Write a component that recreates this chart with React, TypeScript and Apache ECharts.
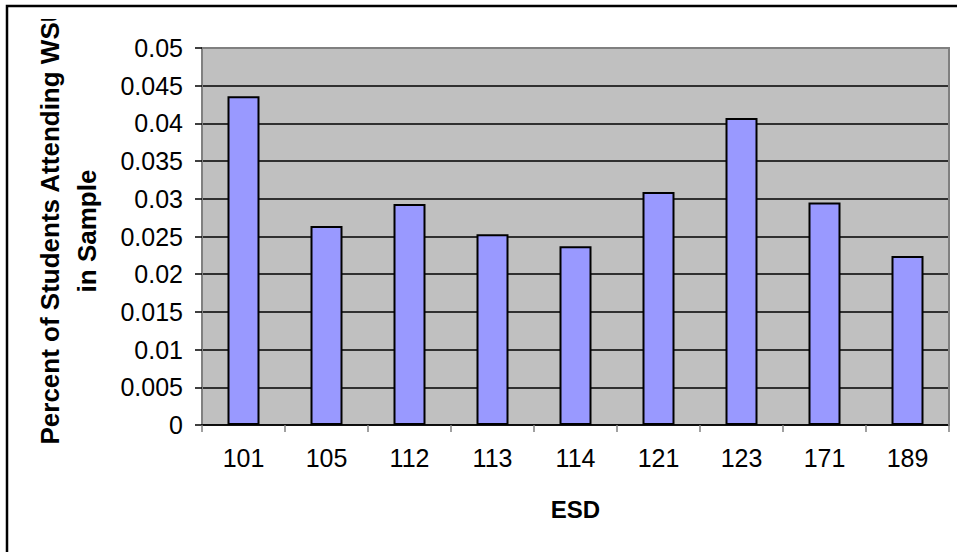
import React, { useEffect, useRef } from "react";
import * as echarts from "echarts";

const categories = ["101", "105", "112", "113", "114", "121", "123", "171", "189"];
const values = [0.0436, 0.0264, 0.0293, 0.0253, 0.0237, 0.0309, 0.0407, 0.0295, 0.0224];
const yMin = 0;
const yMax = 0.05;
const yStep = 0.005;
const yTitleLines = ["Percent of Students Attending WSU", "in Sample"];
const xTitle = "ESD";

const FONT = '"Liberation Sans", Arial, sans-serif';

export default function App() {
  const ref = useRef<HTMLDivElement>(null);
  useEffect(() => {
    if (!ref.current) return;
    const chart = echarts.init(ref.current, null, { renderer: "svg" });
    const gl = 202, gt = 48, gr = 949, gb = 425;
    chart.setOption({
      animation: false,
      backgroundColor: "#ffffff",
      textStyle: { fontFamily: FONT },
      grid: {
        left: gl,
        top: gt,
        right: 957 - gr,
        bottom: 552 - gb,
        show: true,
        backgroundColor: "#C0C0C0",
        borderWidth: 0,
      },
      xAxis: {
        type: "category",
        data: categories,
        axisLine: { show: true, lineStyle: { color: "#000", width: 1.5 } },
        axisTick: { show: true, length: 7, lineStyle: { color: "#808080", width: 1.5 } },
        axisLabel: { color: "#000", fontSize: 25, fontFamily: FONT, margin: 20 },
        name: xTitle,
        nameLocation: "middle",
        nameGap: 84,
        nameTextStyle: { color: "#000", fontSize: 24, fontWeight: "bold", fontFamily: FONT, verticalAlign: "middle" },
      },
      yAxis: {
        type: "value",
        min: yMin,
        max: yMax,
        interval: yStep,
        axisLine: { show: true, lineStyle: { color: "#808080", width: 2 } },
        axisTick: { show: true, length: 7, lineStyle: { color: "#000", width: 1.5 } },
        axisLabel: { color: "#000", fontSize: 25, fontFamily: FONT, margin: 19 },
        splitLine: { show: true, lineStyle: { color: "#000", width: 1.5 } },
      },
      series: [
        {
          type: "bar",
          data: values,
          barWidth: 32,
          itemStyle: { color: "#9999FF", borderColor: "#000", borderWidth: 2 },
        },
      ],
      graphic: [
        {
          type: "polyline",
          z: 100,
          shape: { points: [[gl, gt], [gr, gt], [gr, gb]] },
          style: { stroke: "#808080", lineWidth: 2, fill: null },
        },
        {
          type: "text",
          x: 50,
          y: 224,
          rotation: Math.PI / 2,
          z: 50,
          style: {
            text: yTitleLines[0],
            font: `bold 26px ${FONT}`,
            fill: "#000",
            align: "center",
            verticalAlign: "middle",
            textAlign: "center",
            textVerticalAlign: "middle",
          },
        },
        {
          type: "text",
          x: 87,
          y: 231,
          rotation: Math.PI / 2,
          z: 50,
          style: {
            text: yTitleLines[1],
            font: `bold 26px ${FONT}`,
            fill: "#000",
            align: "center",
            verticalAlign: "middle",
            textAlign: "center",
            textVerticalAlign: "middle",
          },
        },
        {
          type: "rect",
          z: 60,
          shape: { x: 20, y: 0, width: 90, height: 19 },
          style: { fill: "#ffffff", stroke: null },
        },
        {
          type: "rect",
          z: 100,
          shape: { x: 7, y: 6, width: 1200, height: 1200 },
          style: { fill: null, stroke: "#000", lineWidth: 2.5 },
        },
      ],
    });
    return () => chart.dispose();
  }, []);
  return (
    <div
      ref={ref}
      style={{ position: "fixed", left: 0, top: 0, width: 957, height: 552, background: "#fff" }}
    />
  );
}
